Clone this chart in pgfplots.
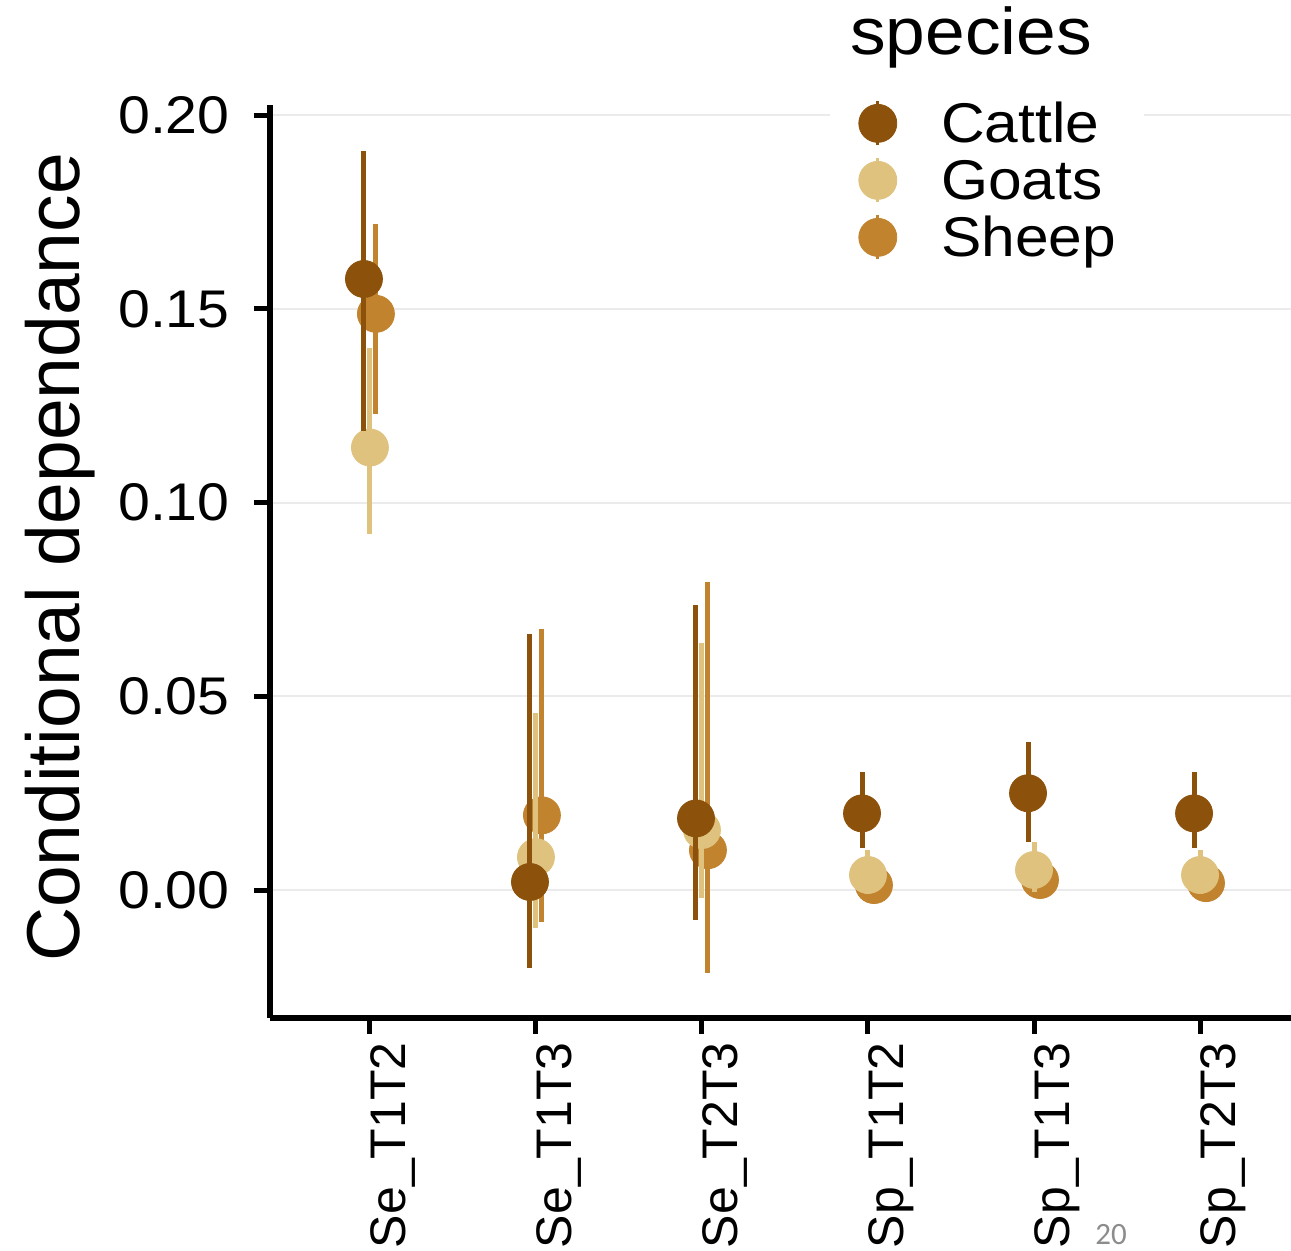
\documentclass[border=0pt]{standalone}
\usepackage{fontspec}
\setmainfont{Liberation Sans}
\newfontfamily\stf[FakeStretch=1.08]{Liberation Sans}
\newfontfamily\calib{Carlito}
\usepackage{pgfplots}
\pgfplotsset{compat=1.18}
\usepackage{pgfplotstable}
\definecolor{cattle}{HTML}{8C510A}
\definecolor{goats}{HTML}{DFC27D}
\definecolor{sheep}{HTML}{C2832F}
\definecolor{gridc}{HTML}{EBEBEB}

\pgfplotstableread{
x y lo hi
0.964 0.1577 0.1186 0.1907
1.964 0.0021 -0.0201 0.0662
2.964 0.0185 -0.0077 0.0735
3.964 0.0198 0.0108 0.0305
4.964 0.0250 0.0124 0.0382
5.964 0.0198 0.0108 0.0305
}\tabcattle
\pgfplotstableread{
x y lo hi
1 0.1142 0.0920 0.1400
2 0.0085 -0.0098 0.0456
3 0.0155 -0.0020 0.0637
4 0.0039 -0.0010 0.0103
5 0.0052 -0.0005 0.0124
6 0.0039 -0.0010 0.0103
}\tabgoats
\pgfplotstableread{
x y lo hi
1.036 0.1487 0.1229 0.1720
2.036 0.0193 -0.0082 0.0675
3.036 0.0103 -0.0214 0.0794
4.036 0.0013 -0.0030 0.0060
5.036 0.0026 -0.0020 0.0075
6.036 0.0018 -0.0025 0.0065
}\tabsheep

\begin{document}
\begin{tikzpicture}
\useasboundingbox (-135pt,-116.5pt) rectangle (510.5pt,509pt);
\clip (-135pt,-116.5pt) rectangle (510.5pt,509pt);
\begin{axis}[
  at={(0pt,0pt)}, anchor=south west,
  scale only axis, width=510.5pt, height=456.5pt,
  xmin=0.398, xmax=6.548, ymin=-0.033, ymax=0.2026,
  clip mode=individual,
  axis lines*=left,
  axis line style={line width=3pt, black, -},
  x axis line style={line width=3pt},
  y axis line style={line width=3pt},
  tick align=outside,
  major tick length=8pt,
  tick style={line width=2.5pt, black},
  ymajorgrids, xmajorgrids=false,
  grid style={gridc, line width=1pt},
  ytick={0,0.05,0.1,0.15,0.2},
  xtick={1,2,3,4,5,6},
  xticklabels={Se\_T1T2,Se\_T1T3,Se\_T2T3,Sp\_T1T2,Sp\_T1T3,Sp\_T2T3},
  /pgf/number format/assume math mode=true,
  yticklabel={\pgfmathprintnumber[fixed,fixed zerofill,precision=2]{\tick}},
  yticklabel style={font=\stf\fontsize{26.5pt}{30pt}\selectfont, anchor=east, inner sep=0pt, xshift=-12pt},
  xticklabel style={font=\fontsize{25pt}{28pt}\selectfont, yshift=-4pt, rotate=90, anchor=north east, inner sep=0pt},
  ylabel={Conditional dependance},
  ylabel style={at={(axis description cs:-0.2052,0.5044)}, anchor=center, font=\fontsize{37.5pt}{40pt}\selectfont},
  reverse legend,
  legend cell align=left,
  legend image code/.code={\draw[line width=1.5pt] (0pt,-7pt) -- (0pt,15pt); \fill (0pt,4pt) circle (9.5pt);},
  legend style={at={(axis description cs:0.5485,1.017)}, anchor=north west, draw=none, fill=white,
    inner xsep=14pt, inner ysep=5pt, font=\stf\fontsize{28pt}{30pt}\selectfont, row sep=0pt,
    nodes={inner xsep=0pt, inner ysep=0pt, text height=18.5pt, text depth=7pt},
    /tikz/every odd column/.append style={column sep=22pt}},
]
\addplot[only marks, color=sheep, mark=*, mark size=9.25pt, mark options={draw=none, fill=sheep},
  error bars/.cd, y dir=both, y explicit, error mark=none, error bar style={line width=2.5pt, sheep}]
  table[x=x, y=y, y error plus expr=\thisrow{hi}-\thisrow{y}, y error minus expr=\thisrow{y}-\thisrow{lo}] {\tabsheep};
\addlegendentry{Sheep}
\addplot[only marks, color=goats, mark=*, mark size=9.25pt, mark options={draw=none, fill=goats},
  error bars/.cd, y dir=both, y explicit, error mark=none, error bar style={line width=2.5pt, goats}]
  table[x=x, y=y, y error plus expr=\thisrow{hi}-\thisrow{y}, y error minus expr=\thisrow{y}-\thisrow{lo}] {\tabgoats};
\addlegendentry{Goats}
\addplot[only marks, color=cattle, mark=*, mark size=9.25pt, mark options={draw=none, fill=cattle},
  error bars/.cd, y dir=both, y explicit, error mark=none, error bar style={line width=2.5pt, cattle}]
  table[x=x, y=y, y error plus expr=\thisrow{hi}-\thisrow{y}, y error minus expr=\thisrow{y}-\thisrow{lo}] {\tabcattle};
\addlegendentry{Cattle}
\node[anchor=base west, font=\stf\fontsize{33pt}{36pt}\selectfont, inner sep=0pt] at (axis description cs:0.568,1.0548) {species};
\node[anchor=base west, font=\calib\fontsize{15.5pt}{17pt}\selectfont, text=black!45, inner sep=0pt] at (axis description cs:0.808,-0.2486) {20};
\end{axis}
\end{tikzpicture}
\end{document}
